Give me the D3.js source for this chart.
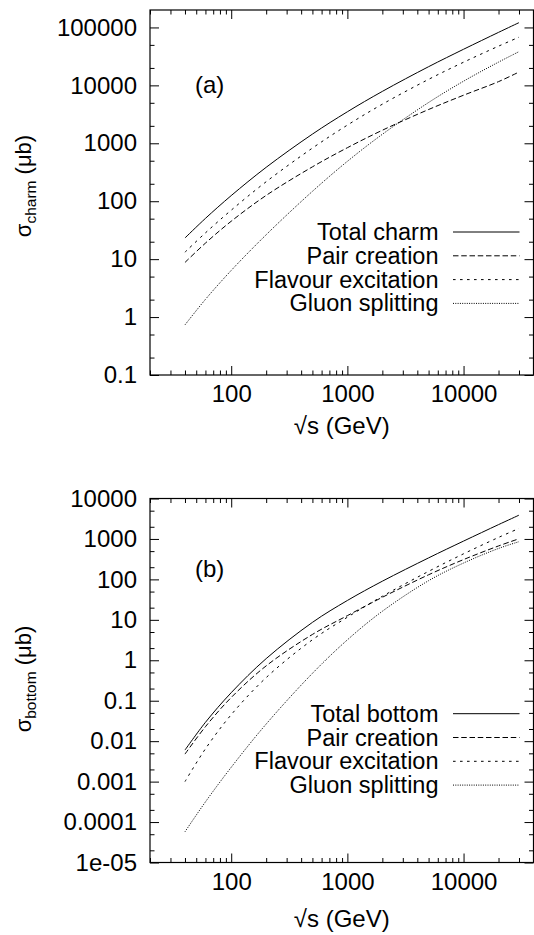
<!DOCTYPE html>
<html>
<head>
<meta charset="utf-8">
<script src="https://cdn.jsdelivr.net/npm/d3@7"></script>
<style>
  body { margin: 0; background: #fff; }
  svg { display: block; font-family: "Liberation Sans", Arial, Helvetica, sans-serif; }
</style>
</head>
<body>
<svg id="chart" width="534" height="935"></svg>
<script>
// Centre-of-mass energy sqrt(s) in GeV
const energies = [40, 60, 100, 200, 500, 1000, 2000, 5000, 10000, 20000, 30000];

// Charm production cross sections (microbarn)
const charmTotal   = [23.2, 50.5, 125, 385, 1440, 3500, 7870, 21000, 42000, 82200, 121000];
const charmPair    = [8.77, 18.9, 45.1, 126, 392, 839, 1680, 3830, 6760, 11600, 17000];
const charmFlavour = [13.2, 28.4, 70, 217, 826, 2060, 4730, 12700, 25100, 47500, 67900];
const charmGluon   = [0.733, 2.02, 6.38, 26.4, 148, 488, 1430, 5060, 11800, 25200, 38200];

// Bottom production cross sections (microbarn)
const bottomTotal   = [0.00603, 0.0292, 0.158, 1.10, 8.65, 30.1, 90.2, 340, 885, 2260, 3870];
const bottomPair    = [0.00479, 0.0228, 0.120, 0.728, 4.35, 12.7, 36.1, 130, 309, 671, 1010];
const bottomFlavour = [0.001, 0.00646, 0.0451, 0.373, 3.21, 11.6, 38.2, 158, 429, 1090, 1820];
const bottomGluon   = [0.0000575, 0.000315, 0.00226, 0.0265, 0.475, 3.20, 16.3, 92.9, 254, 582, 855];

const charmLegend  = ["Total charm", "Pair creation", "Flavour excitation", "Gluon splitting"];
const bottomLegend = ["Total bottom", "Pair creation", "Flavour excitation", "Gluon splitting"];

// Axis ticks
const energyTicks = [100, 1000, 10000];
const energyTickLabels = ["100", "1000", "10000"];
const charmTicks = [0.1, 1, 10, 100, 1000, 10000, 100000];
const charmTickLabels = ["0.1", "1", "10", "100", "1000", "10000", "100000"];
const bottomTicks = [1e-5, 1e-4, 1e-3, 1e-2, 0.1, 1, 10, 100, 1000, 10000];
const bottomTickLabels = ["1e-05", "0.0001", "0.001", "0.01", "0.1", "1", "10", "100", "1000", "10000"];

// Line dash styles for total / pair creation / flavour excitation / gluon splitting
const dashes = [null, "5.5,2.75", "2.6,4.4", "1,1.3"];

const svg = d3.select("#chart");
const left = 150, right = 533.5;
const x = d3.scaleLog().domain([20, 40000]).range([left, right]);

// minor ticks on x: 2..9 in each decade
const xMinor = [];
for (let d = 10; d <= 10000; d *= 10)
  for (let m = 2; m <= 9; m++) { const v = m * d; if (v >= 20 && v <= 40000) xMinor.push(v); }

function drawPanel(cfg) {
  const y = d3.scaleLog().domain(cfg.yDomain).range([cfg.bottom, cfg.top]);
  const g = svg.append("g");
  const fontTick = 24;

  // y minor ticks at 2 and 5 of each decade
  const yMinor = [];
  const [y0, y1] = cfg.yDomain;
  for (let e = Math.floor(Math.log10(y0)); e <= Math.ceil(Math.log10(y1)); e++) {
    [2, 5].forEach(m => { const v = m * Math.pow(10, e); if (v > y0 && v < y1) yMinor.push(v); });
  }

  const majorLen = 9, minorLen = 4.5;

  function styleAxis(sel) {
    sel.select(".domain").remove();
    sel.selectAll(".tick line").attr("stroke", "#000").attr("stroke-width", 1);
    sel.selectAll("text").attr("fill", "#000").style("font-size", fontTick + "px")
      .style("font-family", '"Liberation Sans", Arial, sans-serif');
  }

  // bottom x axis with labels
  g.append("g").attr("transform", `translate(0,${cfg.bottom})`)
    .call(d3.axisBottom(x).tickValues(energyTicks).tickFormat((d, i) => energyTickLabels[i])
      .tickSize(-majorLen).tickPadding(10))
    .call(styleAxis);
  g.append("g").attr("transform", `translate(0,${cfg.bottom})`)
    .call(d3.axisBottom(x).tickValues(xMinor).tickFormat("").tickSize(-minorLen))
    .call(styleAxis);
  // top mirror ticks
  g.append("g").attr("transform", `translate(0,${cfg.top})`)
    .call(d3.axisTop(x).tickValues(energyTicks).tickFormat("").tickSize(-majorLen))
    .call(styleAxis);
  g.append("g").attr("transform", `translate(0,${cfg.top})`)
    .call(d3.axisTop(x).tickValues(xMinor).tickFormat("").tickSize(-minorLen))
    .call(styleAxis);

  // left y axis with labels
  g.append("g").attr("transform", `translate(${left},0)`)
    .call(d3.axisLeft(y).tickValues(cfg.ticks).tickFormat((d, i) => cfg.tickLabels[i])
      .tickSize(-majorLen).tickPadding(13))
    .call(styleAxis);
  g.append("g").attr("transform", `translate(${left},0)`)
    .call(d3.axisLeft(y).tickValues(yMinor).tickFormat("").tickSize(-minorLen))
    .call(styleAxis);
  // right mirror ticks
  g.append("g").attr("transform", `translate(${right},0)`)
    .call(d3.axisRight(y).tickValues(cfg.ticks).tickFormat("").tickSize(-majorLen))
    .call(styleAxis);
  g.append("g").attr("transform", `translate(${right},0)`)
    .call(d3.axisRight(y).tickValues(yMinor).tickFormat("").tickSize(-minorLen))
    .call(styleAxis);

  // frame
  g.append("rect")
    .attr("x", left).attr("y", cfg.top)
    .attr("width", right - left).attr("height", cfg.bottom - cfg.top)
    .attr("fill", "none").attr("stroke", "#000").attr("stroke-width", 1.2);

  // curves
  const line = d3.line()
    .x((d, i) => x(energies[i]))
    .y(d => y(d))
    .curve(d3.curveCatmullRom.alpha(0.5));
  cfg.series.forEach((s, k) => {
    g.append("path").datum(s)
      .attr("d", line)
      .attr("fill", "none")
      .attr("stroke", "#000")
      .attr("stroke-width", 1)
      .attr("stroke-dasharray", dashes[k]);
  });

  // panel tag
  g.append("text").attr("x", 195).attr("y", cfg.tagY)
    .style("font-size", "24px").attr("fill", "#000").text(cfg.tag);

  // legend
  cfg.legend.forEach((name, k) => {
    const by = cfg.legendY + k * 23.8;
    g.append("text").attr("x", 438.5).attr("y", by)
      .attr("text-anchor", "end").style("font-size", "23.5px").attr("fill", "#000").text(name);
    g.append("line")
      .attr("x1", 453).attr("x2", 519.5)
      .attr("y1", by - 8).attr("y2", by - 8)
      .attr("stroke", "#000").attr("stroke-width", 1)
      .attr("stroke-dasharray", dashes[k]);
  });

  // axis titles
  const yt = g.append("text")
    .attr("transform", `translate(31,${cfg.yTitleY}) rotate(-90)`)
    .attr("text-anchor", "middle").style("font-size", "22px").attr("fill", "#000");
  yt.append("tspan").text("σ");
  yt.append("tspan").attr("dy", 5).style("font-size", "15.5px").text(cfg.sub);
  yt.append("tspan").attr("dy", -5).text(" (μb)");

  g.append("text").attr("x", (left + right) / 2).attr("y", cfg.xTitleY)
    .attr("text-anchor", "middle").style("font-size", "24px").attr("fill", "#000")
    .text("√s (GeV)");
}

drawPanel({
  top: 10, bottom: 375, yDomain: [0.1, 200000],
  ticks: charmTicks, tickLabels: charmTickLabels,
  series: [charmTotal, charmPair, charmFlavour, charmGluon],
  legend: charmLegend, legendY: 240,
  tag: "(a)", tagY: 93, sub: "charm", yTitleY: 186, xTitleY: 434
});

drawPanel({
  top: 498.5, bottom: 862.5, yDomain: [1e-5, 1e4],
  ticks: bottomTicks, tickLabels: bottomTickLabels,
  series: [bottomTotal, bottomPair, bottomFlavour, bottomGluon],
  legend: bottomLegend, legendY: 721.7,
  tag: "(b)", tagY: 577, sub: "bottom", yTitleY: 679, xTitleY: 927
});
</script>
</body>
</html>
